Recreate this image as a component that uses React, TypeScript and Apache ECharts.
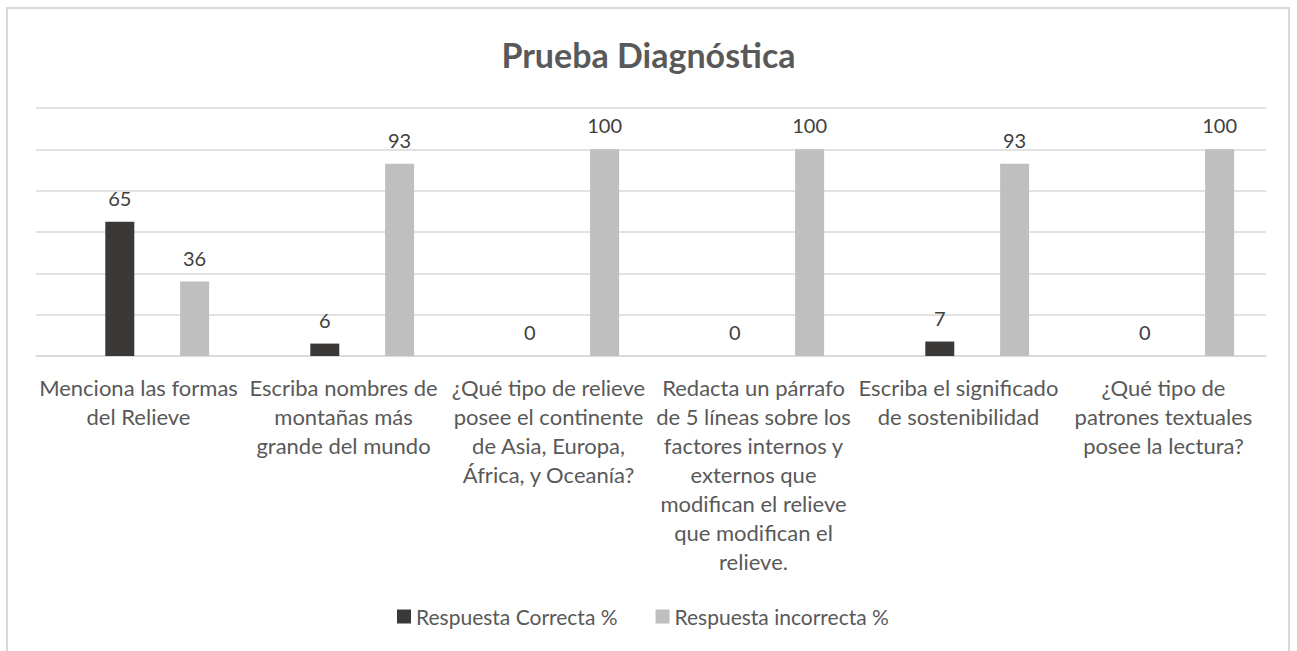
import React, { useEffect, useRef } from "react";
import * as echarts from "echarts";

const categories = [
  "Menciona las formas\ndel Relieve",
  "Escriba nombres de\nmontañas más\ngrande del mundo",
  "¿Qué tipo de relieve\nposee el continente\nde Asia, Europa,\nÁfrica, y Oceanía?",
  "Redacta un párrafo\nde 5 líneas sobre los\nfactores internos y\nexternos que\nmodifican el relieve\nque modifican el\nrelieve.",
  "Escriba el significado\nde sostenibilidad",
  "¿Qué tipo de\npatrones textuales\nposee la lectura?",
];
const correcta = [65, 6, 0, 0, 7, 0];
const incorrecta = [36, 93, 100, 100, 93, 100];
const emptySlot = [null, null, null, null, null, null];
const seriesNames = ["Respuesta Correcta %", "Respuesta incorrecta %"];
const titleText = "Prueba Diagnóstica";

const FONT = "Lato";
const TXT = "#595959";

export default function App() {
  const ref = useRef<HTMLDivElement>(null);
  useEffect(() => {
    if (!ref.current) return;
    const chart = echarts.init(ref.current, undefined, { renderer: "svg" });
    const label = {
      show: true,
      position: "top",
      distance: 14,
      color: "#404040",
      fontSize: 20,
      fontFamily: FONT,
    };
    chart.setOption({
      animation: false,
      backgroundColor: "#ffffff",
      title: {
        text: titleText,
        left: "center",
        top: 32,
        textStyle: { fontFamily: FONT, fontWeight: "bold", fontSize: 34, color: TXT },
      },
      graphic: [
        {
          type: "rect",
          shape: { x: 7, y: 8, width: 1282, height: 700 },
          style: { fill: "none", stroke: "#d9d9d9", lineWidth: 2 },
          silent: true,
        },
      ],
      legend: {
        data: seriesNames,
        top: 601,
        left: 392,
        icon: "rect",
        itemWidth: 14,
        itemHeight: 14,
        itemGap: 38,
        textStyle: { fontFamily: FONT, fontSize: 21, color: TXT },
      },
      grid: { left: 36, right: 31, top: 108, bottom: 295, containLabel: false },
      xAxis: {
        type: "category",
        data: categories,
        axisLine: { show: true, lineStyle: { color: "#d9d9d9", width: 1.5 } },
        axisTick: { show: false },
        axisLabel: {
          interval: 0,
          margin: 17,
          lineHeight: 29,
          fontFamily: FONT,
          fontSize: 22,
          color: TXT,
        },
      },
      yAxis: {
        type: "value",
        min: 0,
        max: 120,
        interval: 20,
        axisLabel: { show: false },
        axisLine: { show: false },
        axisTick: { show: false },
        splitLine: { lineStyle: { color: "#d9d9d9", width: 1.5 } },
      },
      series: [
        { name: "_slot1", type: "bar", data: emptySlot, barWidth: 29, barGap: "29%" },
        {
          name: seriesNames[0],
          type: "bar",
          data: correcta,
          barWidth: 29,
          barGap: "29%",
          itemStyle: { color: "#3b3838" },
          label,
        },
        { name: "_slot2", type: "bar", data: emptySlot, barWidth: 29, barGap: "29%" },
        {
          name: seriesNames[1],
          type: "bar",
          data: incorrecta,
          barWidth: 29,
          barGap: "29%",
          itemStyle: { color: "#bfbfbf" },
          label,
        },
      ],
    });
    return () => chart.dispose();
  }, []);
  return (
    <div
      ref={ref}
      style={{ position: "absolute", left: 0, top: 0, width: 1297, height: 651 }}
    />
  );
}
